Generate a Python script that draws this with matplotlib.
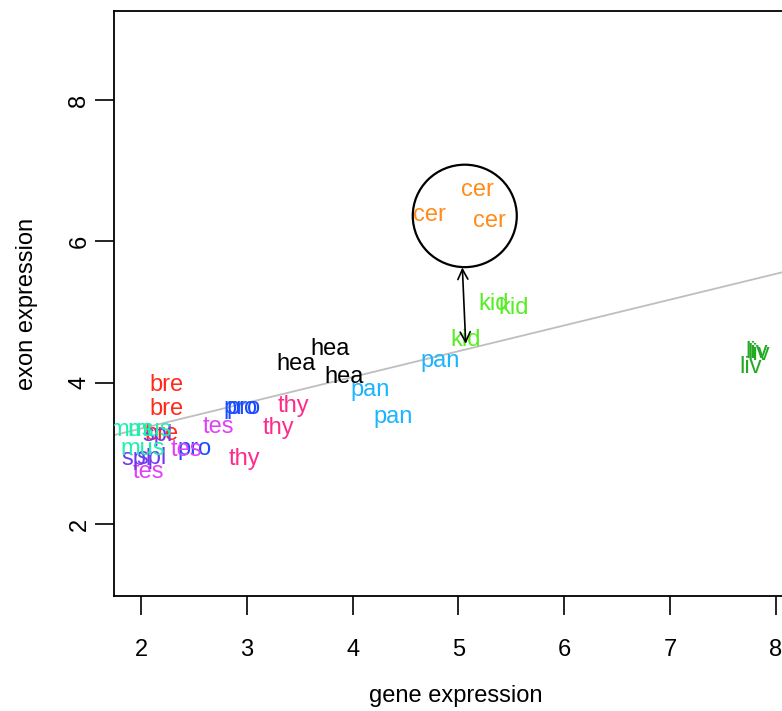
import matplotlib
matplotlib.use("Agg")
import matplotlib.pyplot as plt
from matplotlib.patches import Ellipse

plt.rcParams['font.family'] = ['Liberation Sans', 'DejaVu Sans']

# tissue samples: label, gene expression (x), exon expression (y)
labels = ["cer", "cer", "cer",
          "kid", "kid", "kid",
          "liv", "liv", "liv",
          "hea", "hea", "hea",
          "pan", "pan", "pan",
          "thy", "thy", "thy",
          "bre", "bre", "bre",
          "pro", "pro", "pro",
          "tes", "tes", "tes",
          "spl", "spl", "spl",
          "mus", "mus", "mus"]
gene_x = [5.18, 4.73, 5.29,
          5.33, 5.52, 5.07,
          7.82, 7.84, 7.76,
          3.79, 3.47, 3.92,
          4.83, 4.17, 4.38,
          3.44, 3.30, 2.98,
          2.24, 2.24, 2.19,
          2.94, 2.97, 2.51,
          2.73, 2.43, 2.07,
          2.16, 1.96, 2.10,
          1.91, 2.08, 2.02]
exon_y = [6.72, 6.38, 6.29,
          5.11, 5.05, 4.61,
          4.43, 4.41, 4.22,
          4.47, 4.26, 4.08,
          4.31, 3.89, 3.51,
          3.67, 3.36, 2.92,
          3.96, 3.63, 3.27,
          3.64, 3.64, 3.06,
          3.37, 3.04, 2.73,
          3.26, 2.92, 2.94,
          3.33, 3.33, 3.06]

tissue_colors = {
    "bre": "#FF2A1A", "cer": "#FF8C1A", "hea": "#000000", "kid": "#55EE22",
    "liv": "#22AA22", "mus": "#1FF0B0", "pan": "#1AB4FF", "pro": "#1A4CFF",
    "spl": "#7038F0", "tes": "#E040F8", "thy": "#FF2A8C",
}

# fitted line (exon ~ gene)
fit_intercept = 2.62
fit_slope = 0.365

# highlighted cerebellum group and arrow to the line
circle_center = (5.06, 6.36)
arrow_top = (5.037, 5.63)
arrow_bottom = (5.069, 4.55)

fig = plt.figure(figsize=(7.82, 7.11), dpi=100)
ax = fig.add_axes([0.1458, 0.1617, 0.8734, 0.8228])
ax.set_xlim(1.745, 8.2)
ax.set_ylim(0.98, 9.26)

for lab, x, y in zip(labels, gene_x, exon_y):
    ax.text(x, y, lab, color=tissue_colors[lab], fontsize=17,
            ha="center", va="center", clip_on=True)

ax.axline((0, fit_intercept), slope=fit_slope, color="#BEBEBE", lw=1.3, zorder=1)

ax.add_patch(Ellipse(circle_center, width=0.983, height=1.45,
                     fill=False, edgecolor="black", lw=1.6))
ax.annotate("", xy=arrow_bottom, xytext=arrow_top,
            arrowprops=dict(arrowstyle="<->", color="black", lw=1.2,
                            mutation_scale=18, shrinkA=0, shrinkB=0))

for s in ax.spines.values():
    s.set_linewidth(1.3)

ax.set_xticks([2, 3, 4, 5, 6, 7, 8])
ax.set_yticks([2, 4, 6, 8])
ax.tick_params(axis="x", length=14, width=1.2, pad=17, labelsize=17)
ax.tick_params(axis="y", length=14, width=1.2, pad=3, labelsize=17,
               labelrotation=90)
for t in ax.get_yticklabels():
    t.set_va("center")

ax.set_xlabel("gene expression", fontsize=17, labelpad=17)
ax.set_ylabel("exon expression", fontsize=17, labelpad=22)

plt.savefig("out.png", dpi=100)
